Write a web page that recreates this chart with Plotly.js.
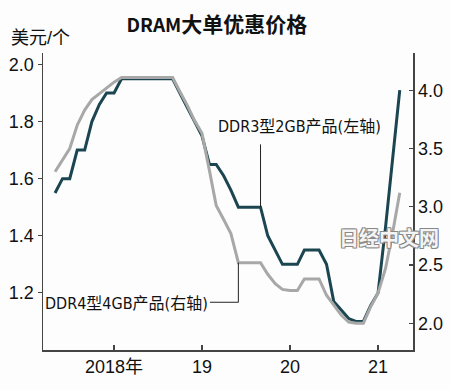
<!DOCTYPE html>
<html><head><meta charset="utf-8">
<script src="https://cdn.plot.ly/plotly-3.0.1.min.js"></script>
<style>body{margin:0;background:#fdfdfd}#c{width:450px;height:390px}</style>
</head><body><div id="c"></div>
<script>
const months = ['2017-05-01','2017-06-01','2017-07-01','2017-08-01','2017-09-01','2017-10-01','2017-11-01','2017-12-01',
'2018-01-01','2018-02-01','2018-03-01','2018-04-01','2018-05-01','2018-06-01','2018-07-01','2018-08-01','2018-09-01','2018-10-01','2018-11-01','2018-12-01',
'2019-01-01','2019-02-01','2019-03-01','2019-04-01','2019-05-01','2019-06-01','2019-07-01','2019-08-01','2019-09-01','2019-10-01','2019-11-01','2019-12-01',
'2020-01-01','2020-02-01','2020-03-01','2020-04-01','2020-05-01','2020-06-01','2020-07-01','2020-08-01','2020-09-01','2020-10-01','2020-11-01','2020-12-01',
'2021-01-01','2021-02-01','2021-03-01','2021-04-01'];
const ddr3 = [1.55,1.60,1.60,1.70,1.70,1.80,1.86,1.90,
1.90,1.95,1.95,1.95,1.95,1.95,1.95,1.95,1.95,1.90,1.85,1.80,
1.75,1.65,1.65,1.61,1.56,1.50,1.50,1.50,1.50,1.40,1.35,1.30,
1.30,1.30,1.35,1.35,1.35,1.30,1.17,1.14,1.11,1.10,1.10,1.155,
1.20,1.43,1.66,1.91];
const ddr4 = [3.30,3.40,3.50,3.70,3.83,3.92,3.97,4.02,
4.07,4.11,4.11,4.11,4.11,4.11,4.11,4.11,4.11,3.99,3.87,3.74,
3.63,3.31,3.01,2.89,2.77,2.52,2.52,2.52,2.52,2.42,2.34,2.29,
2.28,2.28,2.38,2.38,2.38,2.24,2.16,2.07,2.01,2.00,2.00,2.14,
2.26,2.47,2.76,3.12];
const xTickVals = ['2018-01-01','2019-01-01','2020-01-01','2021-01-01'];
const xTickText = ['2018年','19','20','21'];
const leftTicks = [1.2,1.4,1.6,1.8,2.0];
const rightTicks = [2.0,2.5,3.0,3.5,4.0];
const titleLatin = 'DRAM';
const titleCjk = '大单优惠价格';
const unit = '美元/个';
const label3 = 'DDR3型2GB产品(左轴)';
const label4 = 'DDR4型4GB产品(右轴)';
const watermark = '日经中文网';

const F = '"Liberation Sans", "Noto Sans CJK SC", sans-serif';
const FC = '"Liberation Sans Narrow", "DejaVu Sans Condensed", "Noto Sans CJK SC", sans-serif';
const axisCol = '#444';

const traces = [
  {x: months, y: ddr4, yaxis: 'y2', type: 'scatter', mode: 'lines',
   line: {color: '#a8a8a8', width: 3}, hoverinfo: 'skip'},
  {x: months, y: ddr3, yaxis: 'y', type: 'scatter', mode: 'lines',
   line: {color: '#1b4651', width: 3}, hoverinfo: 'skip'}
];

const layout = {
  width: 450, height: 390,
  margin: {l: 43, r: 37, t: 53, b: 40},
  paper_bgcolor: '#fdfdfd', plot_bgcolor: '#fdfdfd',
  showlegend: false,
  title: {text: '<b><span style="font-size:19px">' + titleLatin + '</span>' + titleCjk + '</b>',
          x: 0.482, xanchor: 'center', y: 0.936, yanchor: 'middle',
          font: {family: '"Liberation Sans Narrow", "Noto Sans CJK SC", sans-serif', size: 21, color: '#111'}},
  xaxis: {type: 'date', range: ['2017-03-12', '2021-05-26'],
          tickvals: xTickVals, ticktext: xTickText,
          ticks: 'inside', ticklen: 5, tickwidth: 1.2, tickcolor: axisCol,
          showline: true, linecolor: axisCol, linewidth: 1.5,
          showgrid: false, zeroline: false,
          tickfont: {family: F, size: 18, color: '#111'}},
  yaxis: {range: [1.0, 2.04], tickvals: leftTicks, tickformat: '.1f',
          ticks: 'outside', ticklen: 4, tickwidth: 1.2, tickcolor: axisCol,
          showline: true, linecolor: axisCol, linewidth: 1.5,
          showgrid: false, zeroline: false,
          tickfont: {family: F, size: 18, color: '#111'}},
  yaxis2: {range: [1.77, 4.32], tickvals: rightTicks, tickformat: '.1f',
           overlaying: 'y', side: 'right',
           ticks: 'inside', ticklen: 4, tickwidth: 1.2, tickcolor: axisCol,
           showline: true, linecolor: axisCol, linewidth: 1.5,
           showgrid: false, zeroline: false,
           tickfont: {family: F, size: 18, color: '#111'}},
  shapes: [
    {type: 'line', xref: 'x', yref: 'y', x0: '2019-09-01', x1: '2019-09-01', y0: 1.50, y1: 1.72,
     line: {color: '#222', width: 1}},
    {type: 'line', xref: 'x', yref: 'y2', x0: '2019-06-01', x1: '2019-06-01', y0: 2.52, y1: 2.18,
     line: {color: '#222', width: 1}},
    {type: 'line', xref: 'x', yref: 'y2', x0: '2019-02-03', x1: '2019-06-01', y0: 2.18, y1: 2.18,
     line: {color: '#222', width: 1}}
  ],
  annotations: [
    {text: unit, xref: 'paper', yref: 'paper', x: -0.092, y: 1.051, xanchor: 'left', yanchor: 'middle',
     showarrow: false, font: {family: F, size: 18, color: '#111'}},
    {text: label3, xref: 'paper', yref: 'paper', x: 0.468, y: 0.751, xanchor: 'left', yanchor: 'middle',
     showarrow: false, font: {family: FC, size: 16, color: '#111'}},
    {text: label4, xref: 'paper', yref: 'paper', x: 0.451, y: 0.155, xanchor: 'right', yanchor: 'middle',
     showarrow: false, font: {family: FC, size: 16, color: '#111'}},
    {text: '<b>' + watermark + '</b>', xref: 'paper', yref: 'paper', x: 0.934, y: 0.38, xanchor: 'center', yanchor: 'middle',
     showarrow: false, font: {family: '"Noto Sans CJK SC", sans-serif', size: 20, color: '#f4f4f4',
     shadow: '1px 1px 0 #888, -1px -1px 0 #888, 1px -1px 0 #888, -1px 1px 0 #888'}}
  ]
};

Plotly.newPlot('c', traces, layout, {staticPlot: true, displayModeBar: false});
</script></body></html>
